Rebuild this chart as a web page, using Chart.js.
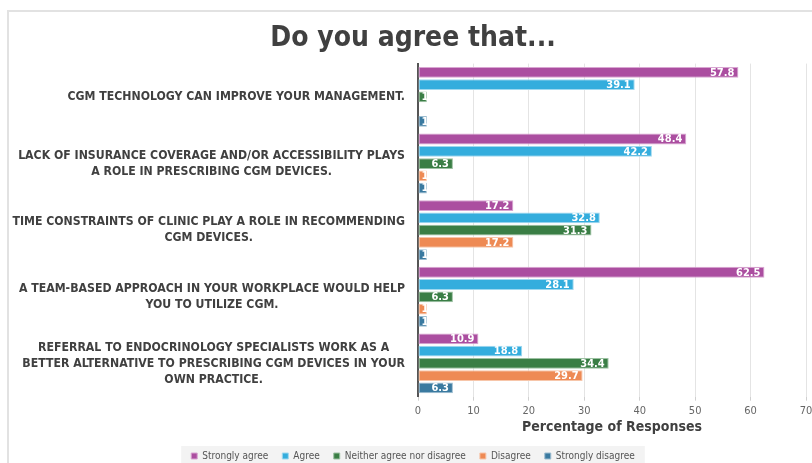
<!DOCTYPE html>
<html>
<head>
<meta charset="utf-8">
<script src="https://cdn.jsdelivr.net/npm/chart.js@4.4.1/dist/chart.umd.min.js"></script>
<style>
  body { margin: 0; background: #fff; }
  #wrap { position: relative; width: 812px; height: 463px; }
  #marco { position: absolute; left: 7px; top: 10px; right: -2px; bottom: -2px; border-left: 2px solid #e2e2e2; border-top: 2px solid #e2e2e2; }
  canvas { position: absolute; left: 0; top: 0; }
</style>
</head>
<body>
<div id="wrap">
  <div id="marco"></div>
  <canvas id="grafico" width="812" height="463"></canvas>
</div>
<script>
// Preguntas (eje Y)
const preguntas = [
  ['CGM TECHNOLOGY CAN IMPROVE YOUR MANAGEMENT.'],
  ['LACK OF INSURANCE COVERAGE AND/OR ACCESSIBILITY PLAYS', 'A ROLE IN PRESCRIBING CGM DEVICES.'],
  ['TIME CONSTRAINTS OF CLINIC PLAY A ROLE IN RECOMMENDING', 'CGM DEVICES.'],
  ['A TEAM-BASED APPROACH IN YOUR WORKPLACE WOULD HELP', 'YOU TO UTILIZE CGM.'],
  ['REFERRAL TO ENDOCRINOLOGY SPECIALISTS WORK AS A', 'BETTER ALTERNATIVE TO PRESCRIBING CGM DEVICES IN YOUR', 'OWN PRACTICE.']
];

// Porcentaje de respuestas por opcion
const muyDeAcuerdo = [57.8, 48.4, 17.2, 62.5, 10.9];
const deAcuerdo = [39.1, 42.2, 32.8, 28.1, 18.8];
const neutral = [1.6, 6.3, 31.3, 6.3, 34.4];
const enDesacuerdo = [0, 1.6, 17.2, 1.6, 29.7];
const muyEnDesacuerdo = [1.6, 1.6, 1.6, 1.6, 6.3];

const ticksX = [0, 10, 20, 30, 40, 50, 60, 70];

const fuente = '"DejaVu Sans Condensed", "DejaVu Sans", sans-serif';

// Etiquetas blancas dentro de cada barra (recortadas al ancho de la barra)
const etiquetasBarras = {
  id: 'etiquetasBarras',
  afterDatasetsDraw(chart) {
    const ctx = chart.ctx;
    chart.data.datasets.forEach((ds, i) => {
      const meta = chart.getDatasetMeta(i);
      meta.data.forEach((barra, j) => {
        const v = ds.data[j];
        if (!v) return;
        const izq = Math.min(barra.x, barra.base);
        const ancho = Math.abs(barra.x - barra.base);
        const texto = v.toFixed(1);
        ctx.save();
        ctx.beginPath();
        ctx.rect(izq, barra.y - barra.height / 2, ancho, barra.height);
        ctx.clip();
        ctx.fillStyle = '#fff';
        ctx.font = 'bold 11px ' + fuente;
        ctx.textAlign = 'left';
        ctx.textBaseline = 'middle';
        const w = ctx.measureText(texto).width;
        // si no cabe, se ve solo el principio del numero
        const x = Math.max(izq + 3, barra.x - 4 - w);
        ctx.fillText(texto, x, barra.y + 0.5);
        ctx.restore();
      });
    });
  }
};

// Textos de las preguntas: bloque alineado a la derecha, lineas centradas
const textosPreguntas = {
  id: 'textosPreguntas',
  afterDraw(chart) {
    const eje = chart.scales.y;
    const ctx = chart.ctx;
    ctx.save();
    ctx.font = 'bold 12.2px ' + fuente;
    ctx.fillStyle = '#404040';
    ctx.textAlign = 'center';
    ctx.textBaseline = 'middle';
    chart.data.labels.forEach((lineas, i) => {
      const cy = eje.getPixelForTick(i);
      const ancho = Math.max(...lineas.map(l => ctx.measureText(l).width));
      const cx = eje.right - 13 - ancho / 2;
      lineas.forEach((l, k) => {
        ctx.fillText(l, cx, cy + (k - (lineas.length - 1) / 2) * 16);
      });
    });
    ctx.restore();
  }
};

// Centrado del titulo y la leyenda, y fondo gris de la leyenda
const ajustes = {
  id: 'ajustes',
  afterLayout(chart) {
    chart.titleBlock.left += 10;
    chart.legend.left += 10;
  },
  beforeDraw(chart) {
    const l = chart.legend;
    if (!l || !l.legendHitBoxes || !l.legendHitBoxes.length) return;
    const items = l.legendHitBoxes;
    const x0 = items[0].left - 10;
    const ult = items[items.length - 1];
    const x1 = ult.left + ult.width + 10;
    const ctx = chart.ctx;
    ctx.save();
    ctx.fillStyle = '#f3f3f3';
    ctx.fillRect(x0, items[0].top - 5, x1 - x0, 30);
    ctx.restore();
  }
};

function serie(nombre, datos, color, borde) {
  return {
    label: nombre,
    data: datos,
    backgroundColor: color,
    borderColor: borde,
    borderWidth: 1,
    borderSkipped: false,
    categoryPercentage: 0.92,
    barPercentage: 0.88
  };
}

new Chart(document.getElementById('grafico'), {
  type: 'bar',
  data: {
    labels: preguntas,
    datasets: [
      serie('Strongly agree', muyDeAcuerdo, '#ab4ea0', '#d9a6d2'),
      serie('Agree', deAcuerdo, '#34addd', '#9fd8ef'),
      serie('Neither agree nor disagree', neutral, '#3a7e45', '#9cc1a2'),
      serie('Disagree', enDesacuerdo, '#ee8a54', '#f7c6aa'),
      serie('Strongly disagree', muyEnDesacuerdo, '#3a7aa0', '#9dbdd0')
    ]
  },
  options: {
    indexAxis: 'y',
    responsive: false,
    animation: false,
    layout: { padding: { top: 22, left: 10, right: 6, bottom: -8 } },
    scales: {
      x: {
        min: 0,
        max: 70,
        afterBuildTicks: (eje) => { eje.ticks = ticksX.map(v => ({ value: v })); },
        afterFit: (eje) => { eje.paddingRight = 0; },
        grid: { color: '#e4e4e4', tickLength: 4, tickColor: '#d0d0d0' },
        border: { display: false },
        ticks: { color: '#666', font: { family: fuente, size: 11 }, padding: 4 },
        title: {
          display: true,
          text: 'Percentage of Responses',
          color: '#404040',
          font: { family: fuente, size: 14, weight: 'bold', lineHeight: 1.15 },
          padding: { top: -3, bottom: 2 }
        }
      },
      y: {
        afterFit: (eje) => { eje.width = 408; },
        grid: { display: false, drawTicks: false },
        border: { display: true, color: '#555', width: 2 },
        ticks: { display: false }
      }
    },
    plugins: {
      title: {
        display: true,
        text: 'Do you agree that...',
        color: '#404040',
        font: { family: fuente, size: 28, weight: 'bold' },
        padding: { top: 0, bottom: 8 }
      },
      legend: {
        position: 'bottom',
        labels: {
          boxWidth: 6,
          boxHeight: 6,
          padding: 14,
          color: '#555',
          font: { family: fuente, size: 10 }
        }
      },
      tooltip: { enabled: false }
    }
  },
  plugins: [ajustes, etiquetasBarras, textosPreguntas]
});
</script>
</body>
</html>
